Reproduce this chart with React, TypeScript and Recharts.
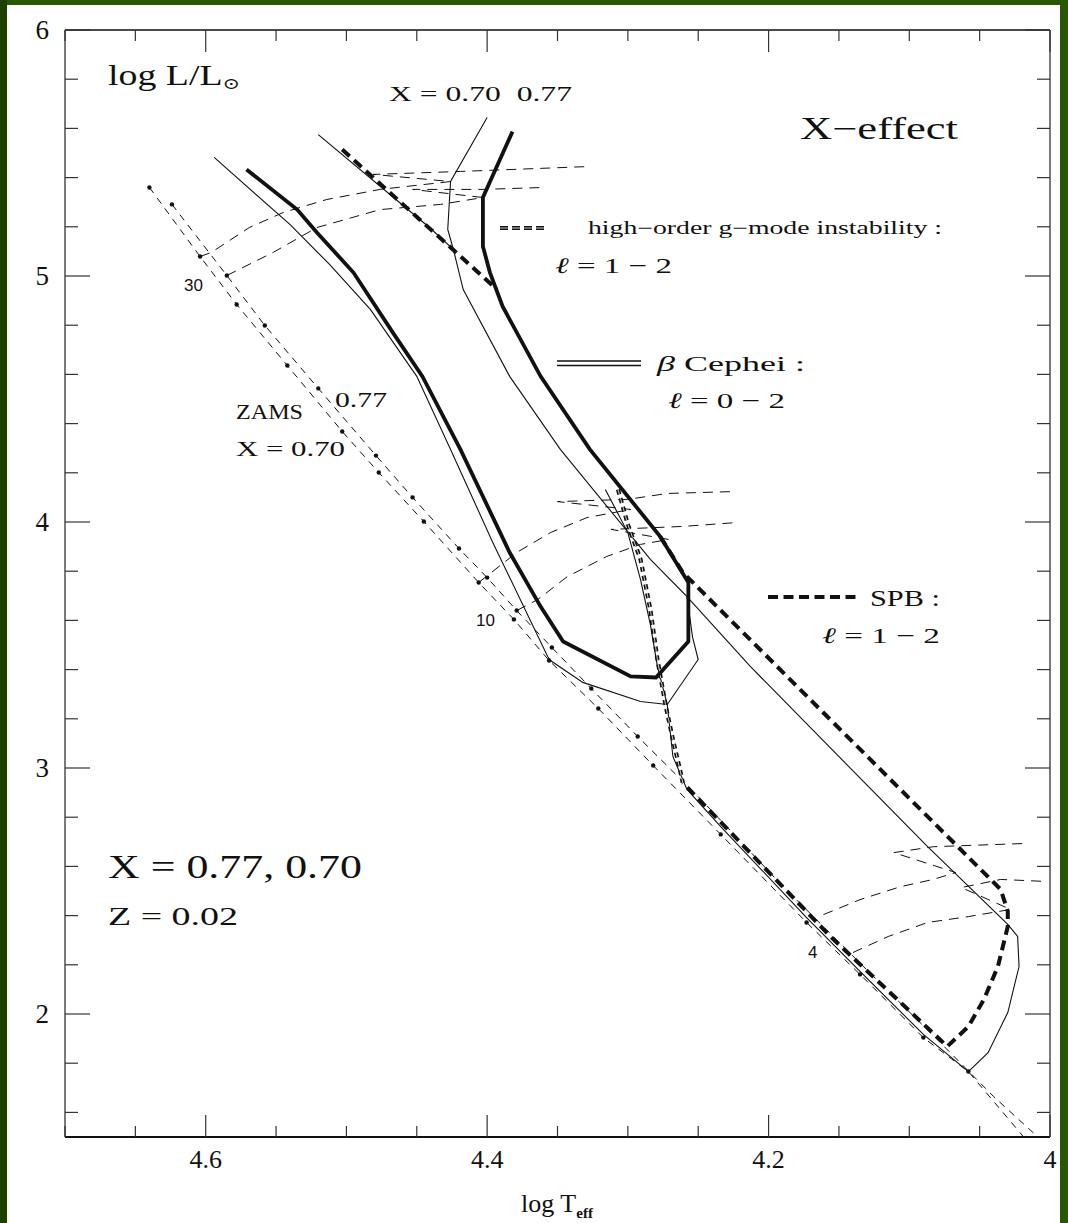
import React from 'react';
import { ComposedChart, Line, XAxis, YAxis } from 'recharts';

type P = { T: number; L: number; m?: number };

// ---------- axis ticks ----------
const xTicks = [4.0, 4.05, 4.1, 4.15, 4.2, 4.25, 4.3, 4.35, 4.4, 4.45, 4.5, 4.55, 4.6, 4.65, 4.7];
const xMajorTicks = [4.0, 4.2, 4.4, 4.6];
const yTicks = [1.6, 1.8, 2.0, 2.2, 2.4, 2.6, 2.8, 3.0, 3.2, 3.4, 3.6, 3.8, 4.0, 4.2, 4.4, 4.6, 4.8, 5.0, 5.2, 5.4, 5.6, 5.8, 6.0];
const yMajorTicks = [2, 3, 4, 5, 6];

// ---------- ZAMS (m = mass point dot) ----------
const zamsX070: P[] = [
  { T: 4.640, L: 5.360, m: 1 }, { T: 4.604, L: 5.079, m: 1 }, { T: 4.578, L: 4.884, m: 1 },
  { T: 4.542, L: 4.636, m: 1 }, { T: 4.503, L: 4.368, m: 1 }, { T: 4.477, L: 4.201, m: 1 },
  { T: 4.445, L: 4.002, m: 1 }, { T: 4.406, L: 3.754, m: 1 }, { T: 4.381, L: 3.604, m: 1 },
  { T: 4.356, L: 3.437, m: 1 }, { T: 4.321, L: 3.242, m: 1 }, { T: 4.282, L: 3.010, m: 1 },
  { T: 4.234, L: 2.730, m: 1 }, { T: 4.173, L: 2.372, m: 1 }, { T: 4.135, L: 2.161, m: 1 },
  { T: 4.090, L: 1.904, m: 1 }, { T: 4.058, L: 1.766, m: 1 }, { T: 4.019, L: 1.502 },
];
const zamsX077: P[] = [
  { T: 4.624, L: 5.291, m: 1 }, { T: 4.585, L: 5.002, m: 1 }, { T: 4.558, L: 4.799, m: 1 },
  { T: 4.520, L: 4.543, m: 1 }, { T: 4.479, L: 4.270, m: 1 }, { T: 4.453, L: 4.100, m: 1 },
  { T: 4.420, L: 3.892, m: 1 }, { T: 4.400, L: 3.774, m: 1 }, { T: 4.379, L: 3.640, m: 1 },
  { T: 4.354, L: 3.490, m: 1 }, { T: 4.326, L: 3.323, m: 1 }, { T: 4.293, L: 3.128, m: 1 },
  { T: 4.248, L: 2.872 }, { T: 4.191, L: 2.526 }, { T: 4.134, L: 2.201 },
  { T: 4.078, L: 1.884 }, { T: 4.040, L: 1.664 }, { T: 4.009, L: 1.502 },
];

// ---------- evolutionary tracks ----------
const track30X070: P[] = [
  { T: 4.604, L: 5.079 }, { T: 4.596, L: 5.096 }, { T: 4.569, L: 5.197 }, { T: 4.545, L: 5.258 },
  { T: 4.514, L: 5.311 }, { T: 4.476, L: 5.352 }, { T: 4.426, L: 5.384 }, { T: 4.481, L: 5.413 },
  { T: 4.419, L: 5.425 }, { T: 4.328, L: 5.445 },
];
const track30X077: P[] = [
  { T: 4.585, L: 5.002 }, { T: 4.552, L: 5.096 }, { T: 4.521, L: 5.197 }, { T: 4.476, L: 5.270 },
  { T: 4.433, L: 5.291 }, { T: 4.403, L: 5.319 }, { T: 4.453, L: 5.352 }, { T: 4.403, L: 5.352 },
  { T: 4.359, L: 5.360 },
];
const track10X070: P[] = [
  { T: 4.406, L: 3.754 }, { T: 4.379, L: 3.876 }, { T: 4.355, L: 3.957 }, { T: 4.329, L: 4.018 },
  { T: 4.298, L: 4.051 }, { T: 4.350, L: 4.083 }, { T: 4.300, L: 4.092 }, { T: 4.272, L: 4.116 },
  { T: 4.223, L: 4.124 },
];
const track10X077: P[] = [
  { T: 4.379, L: 3.640 }, { T: 4.364, L: 3.685 }, { T: 4.343, L: 3.778 }, { T: 4.315, L: 3.860 },
  { T: 4.291, L: 3.909 }, { T: 4.271, L: 3.929 }, { T: 4.312, L: 3.970 }, { T: 4.261, L: 3.982 },
  { T: 4.222, L: 3.998 },
];
const track4X070: P[] = [
  { T: 4.161, L: 2.404 }, { T: 4.135, L: 2.465 }, { T: 4.106, L: 2.518 }, { T: 4.083, L: 2.547 },
  { T: 4.067, L: 2.575 }, { T: 4.111, L: 2.656 }, { T: 4.083, L: 2.680 }, { T: 4.019, L: 2.693 },
];
const track4X077: P[] = [
  { T: 4.140, L: 2.250 }, { T: 4.115, L: 2.315 }, { T: 4.087, L: 2.372 }, { T: 4.058, L: 2.396 },
  { T: 4.028, L: 2.425 }, { T: 4.063, L: 2.514 }, { T: 4.035, L: 2.547 }, { T: 4.004, L: 2.539 },
];

// ---------- beta Cephei boundaries ----------
const betaCepX077: P[] = [
  { T: 4.382, L: 5.587 }, { T: 4.403, L: 5.319 }, { T: 4.403, L: 5.120 }, { T: 4.398, L: 5.014 },
  { T: 4.389, L: 4.876 }, { T: 4.362, L: 4.592 }, { T: 4.327, L: 4.295 }, { T: 4.277, L: 3.941 },
  { T: 4.257, L: 3.754 }, { T: 4.257, L: 3.514 }, { T: 4.280, L: 3.368 }, { T: 4.298, L: 3.372 },
  { T: 4.346, L: 3.514 }, { T: 4.362, L: 3.656 }, { T: 4.384, L: 3.876 }, { T: 4.419, L: 4.295 },
  { T: 4.446, L: 4.592 }, { T: 4.467, L: 4.770 }, { T: 4.495, L: 5.014 }, { T: 4.521, L: 5.177 },
  { T: 4.535, L: 5.270 }, { T: 4.571, L: 5.433 },
];
const betaCepX070: P[] = [
  { T: 4.400, L: 5.644 }, { T: 4.426, L: 5.384 }, { T: 4.428, L: 5.189 }, { T: 4.424, L: 5.108 },
  { T: 4.417, L: 4.945 }, { T: 4.384, L: 4.592 }, { T: 4.348, L: 4.295 }, { T: 4.284, L: 3.848 },
  { T: 4.258, L: 3.697 }, { T: 4.254, L: 3.531 }, { T: 4.250, L: 3.441 }, { T: 4.272, L: 3.258 },
  { T: 4.291, L: 3.270 }, { T: 4.332, L: 3.348 }, { T: 4.355, L: 3.437 }, { T: 4.357, L: 3.453 },
  { T: 4.396, L: 3.917 }, { T: 4.426, L: 4.295 }, { T: 4.450, L: 4.592 }, { T: 4.483, L: 4.864 },
  { T: 4.512, L: 5.047 }, { T: 4.540, L: 5.209 }, { T: 4.594, L: 5.482 },
];
const upperThinX070: P[] = [
  { T: 4.520, L: 5.575 }, { T: 4.441, L: 5.197 }, { T: 4.424, L: 5.108 },
];

// ---------- SPB boundaries ----------
const spbRedX070: P[] = [
  { T: 4.258, L: 3.697 }, { T: 4.213, L: 3.413 }, { T: 4.087, L: 2.680 }, { T: 4.030, L: 2.364 },
  { T: 4.023, L: 2.315 }, { T: 4.022, L: 2.193 }, { T: 4.030, L: 2.006 }, { T: 4.044, L: 1.843 },
  { T: 4.058, L: 1.766 },
];
const spbBlueX070: P[] = [
  { T: 4.316, L: 4.132 }, { T: 4.300, L: 3.957 }, { T: 4.291, L: 3.766 }, { T: 4.284, L: 3.583 },
  { T: 4.279, L: 3.413 }, { T: 4.272, L: 3.258 }, { T: 4.268, L: 3.047 }, { T: 4.258, L: 2.913 },
  { T: 4.234, L: 2.762 }, { T: 4.173, L: 2.392 }, { T: 4.135, L: 2.173 }, { T: 4.090, L: 1.917 },
  { T: 4.058, L: 1.766 },
];
const gModeUpperX077: P[] = [
  { T: 4.503, L: 5.514 }, { T: 4.448, L: 5.230 }, { T: 4.393, L: 4.945 },
];
const spbX077: P[] = [
  { T: 4.277, L: 3.941 }, { T: 4.261, L: 3.795 }, { T: 4.035, L: 2.506 }, { T: 4.030, L: 2.417 },
  { T: 4.030, L: 2.356 }, { T: 4.037, L: 2.193 }, { T: 4.047, L: 2.059 }, { T: 4.058, L: 1.949 },
  { T: 4.073, L: 1.868 }, { T: 4.156, L: 2.315 }, { T: 4.261, L: 2.941 },
];
const gModeBlueX077: P[] = [
  { T: 4.307, L: 4.132 }, { T: 4.300, L: 3.990 }, { T: 4.291, L: 3.848 }, { T: 4.284, L: 3.644 },
  { T: 4.279, L: 3.441 }, { T: 4.273, L: 3.250 }, { T: 4.268, L: 3.116 }, { T: 4.263, L: 2.994 },
  { T: 4.261, L: 2.941 },
];

// ---------- styles ----------
const INK = '#111';
const serif = '"Liberation Serif", "DejaVu Serif", serif';
const sans = '"Liberation Sans", "DejaVu Sans", sans-serif';
const serifStyle = { fontFamily: serif };

const near = (list: number[], v: number) => list.some((a) => Math.abs(a - v) < 1e-6);
const fmtX = (v: number) => (Math.abs(v - 4) < 1e-6 ? '4' : v.toFixed(1));

const BottomTick = (p: any) => {
  const { x, y, payload } = p;
  const v = payload.value;
  const major = near(xMajorTicks, v);
  return (
    <g>
      <line x1={x} x2={x} y1={y} y2={y - (major ? 22 : 11)} stroke="#333" strokeWidth={1.2} />
      {major && (
        <text x={x} y={y + 31} textAnchor="middle" fontSize={26} fontFamily={serif} style={serifStyle} fill={INK}>
          {fmtX(v)}
        </text>
      )}
    </g>
  );
};
const TopTick = (p: any) => {
  const { x, y, payload } = p;
  const major = near(xMajorTicks, payload.value);
  return <line x1={x} x2={x} y1={y} y2={y + (major ? 22 : 11)} stroke="#333" strokeWidth={1.2} />;
};
const LeftTick = (p: any) => {
  const { x, y, payload } = p;
  const v = payload.value;
  const major = near(yMajorTicks, v);
  return (
    <g>
      <line x1={x} x2={x + (major ? 25 : 13)} y1={y} y2={y} stroke="#333" strokeWidth={1.2} />
      {major && (
        <text x={x - 16} y={y + 9} textAnchor="end" fontSize={27} fontFamily={serif} style={serifStyle} fill={INK}>
          {String(Math.round(v))}
        </text>
      )}
    </g>
  );
};
const RightTick = (p: any) => {
  const { x, y, payload } = p;
  const major = near(yMajorTicks, payload.value);
  return <line x1={x} x2={x - (major ? 25 : 13)} y1={y} y2={y} stroke="#333" strokeWidth={1.2} />;
};

const zamsDot = (p: any) =>
  p.payload && p.payload.m ? (
    <circle key={`d${p.index}`} cx={p.cx} cy={p.cy} r={2.2} fill={INK} />
  ) : (
    <g key={`n${p.index}`} />
  );

const common = { dataKey: 'L', dot: false as const, activeDot: false as const, isAnimationActive: false, type: 'linear' as const, legendType: 'none' as const };

export default function App() {
  const W = 1068;
  const H = 1223;
  return (
    <div style={{ position: 'absolute', left: 0, top: 0, width: W, height: H, background: '#2a5800', overflow: 'hidden' }}>
      <div style={{ position: 'absolute', left: 0, top: 0, width: 7, height: H, background: '#1f4000' }} />
      <div style={{ position: 'absolute', left: 7, top: 5, width: 1053, height: H - 5, background: '#fff' }} />
      <div style={{ position: 'absolute', left: 0, top: 0, fontFamily: serif }}>
        <ComposedChart width={W} height={H} margin={{ top: 0, right: 0, bottom: 0, left: 0 }}>
          <XAxis
            xAxisId={0}
            dataKey="T"
            type="number"
            domain={[4.0, 4.7]}
            allowDataOverflow
            reversed
            orientation="bottom"
            height={86}
            ticks={xTicks}
            interval={0}
            tickSize={0}
            tickMargin={0}
            tickLine={false}
            tick={BottomTick}
            axisLine={{ stroke: INK, strokeWidth: 1.8 }}
          />
          <XAxis
            xAxisId="top"
            dataKey="T"
            type="number"
            domain={[4.0, 4.7]}
            allowDataOverflow
            reversed
            orientation="top"
            height={30}
            ticks={xTicks}
            interval={0}
            tickSize={0}
            tickMargin={0}
            tickLine={false}
            tick={TopTick}
            axisLine={{ stroke: INK, strokeWidth: 1.3 }}
          />
          <YAxis
            yAxisId={0}
            type="number"
            domain={[1.5, 6]}
            allowDataOverflow
            orientation="left"
            width={65}
            ticks={yTicks}
            interval={0}
            tickSize={0}
            tickMargin={0}
            tickLine={false}
            tick={LeftTick}
            axisLine={{ stroke: '#333', strokeWidth: 1.3 }}
          />
          <YAxis
            yAxisId="right"
            type="number"
            domain={[1.5, 6]}
            allowDataOverflow
            orientation="right"
            width={18}
            ticks={yTicks}
            interval={0}
            tickSize={0}
            tickMargin={0}
            tickLine={false}
            tick={RightTick}
            axisLine={{ stroke: '#333', strokeWidth: 1.3 }}
          />

          {/* ZAMS */}
          <Line {...common} data={zamsX070} stroke={INK} strokeWidth={1} strokeDasharray="7 6" dot={zamsDot} />
          <Line {...common} data={zamsX077} stroke={INK} strokeWidth={1} strokeDasharray="7 6" dot={zamsDot} />

          {/* tracks */}
          <Line {...common} data={track30X070} stroke={INK} strokeWidth={1} strokeDasharray="10 7" />
          <Line {...common} data={track30X077} stroke={INK} strokeWidth={1} strokeDasharray="10 7" />
          <Line {...common} data={track10X070} stroke={INK} strokeWidth={1} strokeDasharray="10 7" />
          <Line {...common} data={track10X077} stroke={INK} strokeWidth={1} strokeDasharray="10 7" />
          <Line {...common} data={track4X070} stroke={INK} strokeWidth={1} strokeDasharray="10 7" />
          <Line {...common} data={track4X077} stroke={INK} strokeWidth={1} strokeDasharray="10 7" />

          {/* thin solid boundaries (X = 0.70) */}
          <Line {...common} data={upperThinX070} stroke={INK} strokeWidth={1.1} />
          <Line {...common} data={spbRedX070} stroke={INK} strokeWidth={1.1} />
          <Line {...common} data={spbBlueX070} stroke={INK} strokeWidth={1.1} />
          <Line {...common} data={betaCepX070} stroke={INK} strokeWidth={1.1} />

          {/* thick dashed boundaries (X = 0.77) */}
          <Line {...common} data={gModeUpperX077} stroke={INK} strokeWidth={4} strokeDasharray="10 6" />
          <Line {...common} data={spbX077} stroke={INK} strokeWidth={4} strokeDasharray="10 6" />
          <Line {...common} data={gModeBlueX077} stroke={INK} strokeWidth={4.2} strokeDasharray="5 4" />
          <Line {...common} data={gModeBlueX077} stroke="#fff" strokeWidth={0.8} strokeDasharray="5 4" />

          {/* beta Cephei X = 0.77 */}
          <Line {...common} data={betaCepX077} stroke={INK} strokeWidth={3.8} />
        </ComposedChart>
      </div>

      {/* annotations */}
      <svg width={W} height={H} style={{ position: 'absolute', left: 0, top: 0, pointerEvents: 'none' }}>
        <g style={serifStyle} fill={INK}>
          <text x={108} y={85} fontSize={29} textLength={132} lengthAdjust="spacingAndGlyphs">
            log L/L<tspan fontSize={16} dy={4}>⊙</tspan>
          </text>
          <text x={389} y={101} fontSize={22} textLength={183} lengthAdjust="spacingAndGlyphs">{'X = 0.70\u00a0\u00a00.77'}</text>
          <text x={800} y={139} fontSize={31} textLength={158} lengthAdjust="spacingAndGlyphs">X−effect</text>

          {/* g-mode legend */}
          <line x1={500} x2={546} y1={228} y2={228} stroke={INK} strokeWidth={4.2} strokeDasharray="8 4" />
          <line x1={500} x2={546} y1={228} y2={228} stroke="#fff" strokeWidth={0.8} strokeDasharray="8 4" />
          <text x={588} y={234} fontSize={18} textLength={354} lengthAdjust="spacingAndGlyphs">high−order g−mode instability :</text>
          <text x={555} y={273} fontSize={22} textLength={117} lengthAdjust="spacingAndGlyphs">
            <tspan fontStyle="italic">ℓ</tspan> = 1 − 2
          </text>

          {/* beta Cep legend */}
          <line x1={557} x2={641} y1={361} y2={361} stroke={INK} strokeWidth={1.3} />
          <line x1={557} x2={641} y1={365.5} y2={365.5} stroke={INK} strokeWidth={1.3} />
          <text x={657} y={371} fontSize={22} textLength={148} lengthAdjust="spacingAndGlyphs">
            <tspan fontStyle="italic">β</tspan> Cephei :
          </text>
          <text x={668} y={408} fontSize={22} textLength={117} lengthAdjust="spacingAndGlyphs">
            <tspan fontStyle="italic">ℓ</tspan> = 0 − 2
          </text>

          {/* SPB legend */}
          <line x1={768} x2={856} y1={597} y2={597} stroke={INK} strokeWidth={4} strokeDasharray="10 5.5" />
          <text x={870} y={606} fontSize={23} textLength={70} lengthAdjust="spacingAndGlyphs">SPB :</text>
          <text x={822} y={643} fontSize={22} textLength={118} lengthAdjust="spacingAndGlyphs">
            <tspan fontStyle="italic">ℓ</tspan> = 1 − 2
          </text>

          {/* ZAMS labels */}
          <text x={236} y={419} fontSize={20} textLength={67} lengthAdjust="spacingAndGlyphs">ZAMS</text>
          <text x={335} y={407} fontSize={21} textLength={52} lengthAdjust="spacingAndGlyphs">0.77</text>
          <text x={236} y={456} fontSize={21} textLength={109} lengthAdjust="spacingAndGlyphs">X = 0.70</text>

          {/* bottom-left labels */}
          <text x={108} y={878} fontSize={33} textLength={254} lengthAdjust="spacingAndGlyphs">X = 0.77, 0.70</text>
          <text x={108} y={925} fontSize={26} textLength={130} lengthAdjust="spacingAndGlyphs">Z = 0.02</text>

          {/* x-axis title */}
          <text x={557} y={1212} fontSize={26} textAnchor="middle">
            log T<tspan fontSize={15} fontWeight="bold" dy={6}>eff</tspan>
          </text>
        </g>
        <g style={{ fontFamily: sans }} fill={INK} fontSize={17}>
          <text x={184} y={291}>30</text>
          <text x={476} y={626}>10</text>
          <text x={808} y={958}>4</text>
        </g>
      </svg>
    </div>
  );
}
